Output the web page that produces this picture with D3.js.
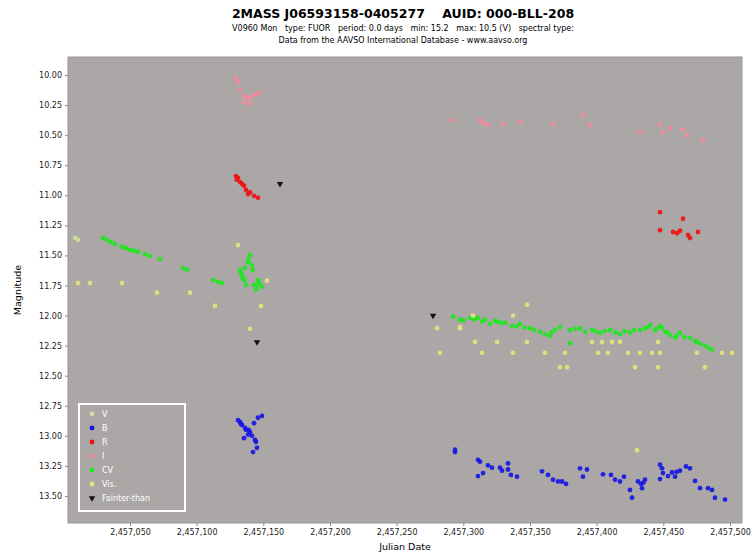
<!DOCTYPE html>
<html>
<head>
<meta charset="utf-8">
<script src="https://cdn.jsdelivr.net/npm/d3@7"></script>
<style>
body { margin: 0; background: #fff; }
text { font-family: "DejaVu Sans", sans-serif; white-space: pre; }
</style>
</head>
<body>
<script>
// chart size
var width = 752;
var height = 556;

// plot area
var margin = {top: 57, right: 10, bottom: 33, left: 68};

// days are JD - 2457000
var JD0 = 2457000;

var xTicks = [2457050, 2457100, 2457150, 2457200, 2457250, 2457300, 2457350, 2457400, 2457450, 2457500];
var yTicks = [10, 10.25, 10.5, 10.75, 11, 11.25, 11.5, 11.75, 12, 12.25, 12.5, 12.75, 13, 13.25, 13.5];

var seriesNames = ["V", "B", "R", "I", "CV", "Vis.", "Fainter-than"];
var seriesColors = ["#cfe09a", "#1414e6", "#f01010", "#f48c9c", "#1ee81e", "#e6e27c", "#111111"];

var vData = [[8.75, 11.355], [11, 11.37]];

var bData = [
  [131, 12.87], [132.5, 12.885], [134, 12.91], [136.25, 12.935], [137, 12.95], [140, 12.97],
  [135.5, 13.02], [141.5, 13.0], [143, 12.895], [146, 12.85], [149, 12.835], [143.75, 13.035],
  [144.5, 13.05], [145.25, 13.1], [142.25, 13.135], [138.5, 12.99], [133, 12.9], [139, 12.95],
  [293.75, 13.115], [293.75, 13.135], [311, 13.2], [312.5, 13.215], [311, 13.335], [314.75, 13.31],
  [318.5, 13.245], [321.5, 13.265], [327.5, 13.265], [329, 13.29], [333.5, 13.23], [333.5, 13.28],
  [335.75, 13.325], [340.25, 13.34], [359, 13.295], [363.5, 13.325], [367.25, 13.365], [371, 13.38],
  [374, 13.38], [377, 13.4], [387.5, 13.27], [392.75, 13.28], [389.75, 13.34], [404.75, 13.32],
  [410.75, 13.325], [413.75, 13.365], [417.5, 13.38], [420.5, 13.34], [425, 13.45], [426.5, 13.515],
  [431, 13.38], [433.25, 13.4], [436.25, 13.365], [434, 13.435], [447.5, 13.24], [449, 13.27],
  [449.75, 13.31], [447.5, 13.36], [453.5, 13.335], [456.5, 13.305], [458.75, 13.34], [462.5, 13.29],
  [467, 13.255], [470, 13.27], [473.75, 13.375], [477.5, 13.435], [483.5, 13.435], [486.5, 13.45],
  [488.75, 13.515], [496.25, 13.53], [460, 13.3], [435, 13.39]
];

var rData = [
  [129.5, 10.84], [131, 10.855], [132.5, 10.89], [135.5, 10.92], [137, 10.955], [140, 10.975],
  [143, 11.005], [146, 11.02], [134, 10.905], [138.5, 10.99], [130, 10.87],
  [447.5, 11.14], [464.75, 11.195], [447.5, 11.29], [457.25, 11.305], [460.25, 11.315],
  [462.5, 11.295], [468.5, 11.33], [470, 11.355], [476, 11.305]
];

var iData = [
  [129.5, 10.025], [131, 10.06], [132.5, 10.125], [135.5, 10.175], [138.5, 10.19], [141.5, 10.175],
  [144.5, 10.16], [147.5, 10.145], [135.5, 10.225], [140, 10.24],
  [292.25, 10.375], [312.5, 10.375], [318.5, 10.415], [329.75, 10.405], [367.25, 10.405],
  [389.75, 10.33], [395, 10.415], [432.5, 10.48], [447.5, 10.415], [449.75, 10.48],
  [464.75, 10.455], [467.75, 10.5], [479.75, 10.54], [315, 10.4], [343, 10.39], [455, 10.44]
];

var cvData = [
  [29.75, 11.355], [32.75, 11.37], [38.75, 11.405], [44, 11.43], [50, 11.455], [56, 11.47],
  [61.25, 11.49], [65, 11.505], [72.5, 11.53], [89.75, 11.605], [92.75, 11.62],
  [112.25, 11.705], [116, 11.72], [119, 11.73], [35.5, 11.39], [47, 11.44], [53, 11.46],
  [132.5, 11.62], [134, 11.665], [135.5, 11.705], [137, 11.745], [138.5, 11.555], [140, 11.495],
  [141.5, 11.58], [143, 11.745], [144.5, 11.785], [146, 11.705], [149, 11.76], [136.25, 11.6],
  [133, 11.64], [134.5, 11.69], [139, 11.53], [142, 11.62], [145, 11.75], [147, 11.73],
  [292.25, 12.01], [297.5, 12.035], [305, 12.02], [311, 12.02], [316.25, 12.035], [320, 12.07],
  [323.75, 12.045], [331.25, 12.06], [336.5, 12.085], [342.5, 12.07], [350, 12.105], [357.5, 12.135],
  [361.25, 12.155], [365, 12.17], [368.75, 12.12], [372.5, 12.095], [380, 12.12], [387.5, 12.105],
  [391.25, 12.135], [396.5, 12.12], [402.5, 12.145], [410, 12.12], [417.5, 12.155], [432.5, 12.12],
  [436.25, 12.105], [440, 12.08], [443.75, 12.12], [447.5, 12.085], [451.25, 12.135], [455, 12.16],
  [458.75, 12.185], [462.5, 12.145], [470, 12.185], [473.75, 12.21], [477.5, 12.235],
  [481.25, 12.25], [486.5, 12.285], [380, 12.23], [366, 12.14], [325, 12.05], [425, 12.14],
  [300, 12.04], [308, 12.03], [314, 12.05], [328, 12.06], [340, 12.09], [346, 12.1], [353, 12.12],
  [384, 12.11], [399, 12.13], [406, 12.13], [414, 12.14], [421, 12.13], [428, 12.12], [438, 12.1],
  [445, 12.11], [449, 12.1], [453, 12.14], [460, 12.17], [466, 12.18], [475, 12.22], [484, 12.27]
];

var visData = [
  [11, 11.73], [20, 11.73], [44, 11.73], [70.25, 11.81], [95, 11.81], [113.75, 11.92],
  [131, 11.415], [152.75, 11.71], [148.25, 11.92], [140, 12.11],
  [347.75, 11.91], [280.25, 12.105], [297.5, 12.105], [308.75, 12.22], [325.25, 12.22],
  [347.75, 12.22], [396.5, 12.22], [404, 12.22], [411.5, 12.22], [417.5, 12.22], [446, 12.22],
  [282.5, 12.31], [314, 12.31], [337.25, 12.31], [361.25, 12.31], [376.25, 12.31], [401, 12.31],
  [408.5, 12.31], [423.5, 12.31], [432.5, 12.31], [441.5, 12.31], [447.5, 12.31], [475.25, 12.31],
  [494, 12.31], [501.5, 12.31], [372.5, 12.43], [377.75, 12.43], [428.75, 12.43], [446, 12.43],
  [481.25, 12.43], [430.25, 13.12], [337.25, 12.0], [307.25, 12.0], [297.5, 12.095]
];

var fainterData = [[162.5, 10.905], [277.25, 12.0], [145.25, 12.22]];

var allSeries = [vData, bData, rData, iData, cvData, visData, fainterData];

var svg = d3.select("body").append("svg")
  .attr("width", width)
  .attr("height", height);

var x = d3.scaleLinear()
  .domain([2457003.5, 2457509])
  .range([margin.left, width - margin.right]);

var y = d3.scaleLinear()
  .domain([9.85, 13.725])
  .range([margin.top, height - margin.bottom]);

// titles
svg.append("text").attr("x", 403).attr("y", 18)
  .attr("text-anchor", "middle").style("font-size", "12.5px").style("font-weight", "bold")
  .text("2MASS J06593158-0405277    AUID: 000-BLL-208");
svg.append("text").attr("x", 403).attr("y", 31)
  .attr("text-anchor", "middle").style("font-size", "8px")
  .text("V0960 Mon   type: FUOR   period: 0.0 days   min: 15.2   max: 10.5 (V)   spectral type:");
svg.append("text").attr("x", 403).attr("y", 43)
  .attr("text-anchor", "middle").style("font-size", "8px")
  .text("Data from the AAVSO International Database - www.aavso.org");

// plot background
svg.append("rect")
  .attr("x", margin.left).attr("y", margin.top)
  .attr("width", width - margin.left - margin.right)
  .attr("height", height - margin.top - margin.bottom)
  .style("fill", "#aba7a7")
  .style("stroke", "#9a9696");

// axes
var xAxis = svg.append("g")
  .attr("transform", "translate(0," + (height - margin.bottom) + ")")
  .call(d3.axisBottom(x).tickValues(xTicks).tickFormat(d3.format(",")).tickSize(3));
var yAxis = svg.append("g")
  .attr("transform", "translate(" + margin.left + ",0)")
  .call(d3.axisLeft(y).tickValues(yTicks).tickFormat(d3.format(".2f")).tickSize(3));

svg.selectAll(".domain").remove();
svg.selectAll(".tick line").style("stroke", "#888");
xAxis.selectAll("text").style("font-size", "8px").style("fill", "#222");
yAxis.selectAll("text").style("font-size", "8px").style("fill", "#222").attr("x", -6);

svg.append("text").attr("x", 405).attr("y", 550)
  .attr("text-anchor", "middle").style("font-size", "9.5px")
  .text("Julian Date");
svg.append("text")
  .attr("transform", "translate(21," + 290 + ") rotate(-90)")
  .attr("text-anchor", "middle").style("font-size", "9.5px")
  .text("Magnitude");

// points
var plot = svg.append("g");
allSeries.forEach(function(data, i) {
  if (i == 6) {
    plot.selectAll(null).data(data).enter().append("path")
      .attr("d", d3.symbol().type(d3.symbolTriangle).size(18))
      .attr("transform", function(d) { return "translate(" + x(JD0 + d[0]) + "," + y(d[1]) + ") rotate(180)"; })
      .style("fill", seriesColors[i]);
  } else {
    plot.selectAll(null).data(data).enter().append("circle")
      .attr("cx", function(d) { return x(JD0 + d[0]); })
      .attr("cy", function(d) { return y(d[1]); })
      .attr("r", 2.4)
      .style("fill", seriesColors[i])
      .style("opacity", 0.9);
  }
});

// legend
var legend = svg.append("g");
legend.append("rect")
  .attr("x", 79).attr("y", 404).attr("width", 106).attr("height", 107)
  .style("fill", "none").style("stroke", "#fff").style("stroke-width", 2);
seriesNames.forEach(function(name, i) {
  var ly = 414 + i * 14;
  if (i == 6) {
    legend.append("path")
      .attr("d", d3.symbol().type(d3.symbolTriangle).size(18))
      .attr("transform", "translate(92," + ly + ") rotate(180)")
      .style("fill", seriesColors[i]);
  } else {
    legend.append("circle").attr("cx", 92).attr("cy", ly).attr("r", 2.4)
      .style("fill", seriesColors[i]);
  }
  legend.append("text").attr("x", 102).attr("y", ly + 3)
    .style("font-size", "8px").style("fill", "#fff")
    .text(name);
});
</script>
</body>
</html>
